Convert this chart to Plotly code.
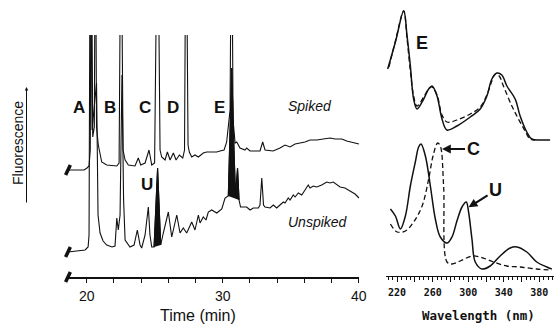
import plotly.graph_objects as go

W, H = 554, 324

# ---------------- Chromatograms (time in min, fluorescence in arbitrary units) ----------------
spiked_t = [18.62, 19.80, 20.02, 20.17, 20.26, 20.33, 20.44, 20.56, 20.63, 20.72, 20.85, 21.10, 21.47,
            22.21, 22.38, 22.52, 22.67, 22.82, 23.06, 23.55, 23.79, 23.97, 24.29, 24.58, 24.78, 24.99,
            25.21, 25.39, 25.51, 25.76, 25.93, 26.13, 26.37, 26.57, 26.81, 27.06, 27.19, 27.30, 27.45,
            27.54, 27.72, 27.96, 28.21, 28.57, 28.82, 29.07, 29.29, 29.56, 29.80, 30.10, 30.29, 30.41,
            30.54, 30.65, 30.76, 30.91, 31.03, 31.27, 31.64, 31.76, 32.01, 32.74, 32.94, 33.11, 33.70,
            34.21, 34.58, 34.95, 35.32, 35.68, 36.05, 36.42, 36.91, 37.40, 37.89, 38.26, 38.75, 39.12,
            39.73, 40.02]
spiked_s = [107, 107, 109, 111, 127, 400, 140, 150, 400, 150, 132, 115, 112,
            111, 114, 400, 127, 117, 112, 111, 119, 112, 114, 127, 112, 114,
            400, 127, 120, 117, 125, 117, 124, 117, 122, 119, 127, 400, 132,
            125, 120, 122, 120, 124, 125, 125, 125, 125, 126, 127, 135, 149,
            167, 400, 157, 134, 135, 129, 127, 129, 126, 126, 135, 127, 126,
            129, 132, 130, 133, 134, 135, 137, 137, 138, 139, 138, 138, 136,
            134, 133]

unspiked_t = [18.62, 19.51, 19.88, 20.10, 20.17, 20.26, 20.39, 20.46, 20.72, 20.83, 20.98, 21.20,
              21.47, 21.86, 22.08, 22.21, 22.32, 22.45, 22.59, 22.71, 22.82, 23.18, 23.48, 23.72,
              23.92, 24.04, 24.29, 24.53, 24.65, 24.78, 24.95, 25.21, 25.44, 25.63, 26.00, 26.25,
              26.62, 26.86, 27.10, 27.35, 27.72, 27.96, 28.21, 28.33, 28.57, 28.77, 28.94, 29.19,
              29.56, 29.93, 30.17, 30.41, 30.66, 30.83, 30.94, 31.09, 31.20, 31.31, 31.76, 32.01,
              32.25, 32.62, 32.74, 32.87, 33.00, 33.11, 33.48, 33.72, 33.97, 34.21, 34.46, 34.58,
              34.82, 34.95, 35.19, 35.32, 35.56, 35.81, 36.05, 36.29, 36.42, 36.66, 36.91, 37.28,
              37.65, 37.89, 38.13, 38.38, 38.63, 38.99, 39.24, 39.49, 39.73, 40.02]
unspiked_s = [25, 26, 27, 30, 42, 400, 147, 157, 194, 62, 44, 36,
              32, 30, 31, 59, 47, 62, 202, 77, 37, 30, 32, 47,
              32, 29, 42, 70, 42, 30, 30, 109, 32, 44, 65, 40,
              62, 44, 49, 44, 55, 47, 62, 54, 60, 57, 65, 67,
              64, 68, 79, 81, 209, 127, 82, 109, 77, 70, 70, 67,
              69, 69, 72, 99, 72, 70, 69, 72, 69, 72, 75, 74,
              79, 77, 82, 80, 84, 82, 87, 92, 89, 91, 90, 92,
              95, 94, 95, 92, 90, 89, 87, 85, 83, 79]

# time windows of the shaded (black) peaks in the unspiked trace
u_window = [24.95, 25.44]
e_window = [30.41, 31.20]

time_ticks = [20, 22, 24, 26, 28, 30, 32, 34, 36, 38, 40]
time_ticktext = ["20", "", "", "", "", "30", "", "", "", "", "40"]

peak_labels = ["A", "B", "C", "D", "E"]

# ---------------- UV spectra (wavelength nm, relative absorbance, offset) ----------------
E_sample_wl = [209.4, 218.1, 227.4, 231.2, 234.9, 238.6, 242.4, 249.9, 255.5, 259.3, 264.9, 270.5,
               276.1, 287.3, 302.3, 313.5, 321.0, 326.6, 332.2, 337.8, 343.5, 352.8, 358.4, 365.9,
               371.5, 380.9, 392.1]
E_sample_ab = [207, 234, 265, 240, 210, 177, 167, 177, 187, 190, 180, 157,
               146, 150, 159, 167, 180, 197, 203, 201, 190, 177, 160, 144,
               137, 136, 136]
E_std_wl = [210.8, 218.1, 227.4, 231.2, 234.9, 238.6, 242.4, 249.9, 255.5, 259.3, 264.9, 270.5,
            276.1, 287.3, 302.3, 313.5, 321.0, 326.6, 330.3, 334.8, 339.6, 349.1, 356.5, 364.0,
            369.6, 375.2]
E_std_ab = [209, 235, 265, 237, 205, 180, 170, 179, 187, 189, 181, 161,
            154, 156, 162, 169, 181, 195, 202, 200, 190, 170, 157, 145,
            137, 136]

U_wl = [212.5, 218.1, 223.7, 229.3, 234.9, 240.5, 244.2, 246.9, 251.8, 257.4, 263.0, 268.6,
        276.1, 281.7, 287.3, 293.0, 297.8, 300.4, 304.2, 307.9, 315.4, 324.7, 335.9, 347.2,
        354.7, 365.9, 377.1, 388.4, 394.0]
U_ab = [67, 60, 47, 60, 90, 114, 129, 132, 120, 90, 57, 39,
        33, 39, 55, 69, 74, 64, 37, 14, 7, 10, 20, 28,
        29, 24, 14, 9, 7]
C_wl = [212.5, 220.0, 229.3, 238.6, 248.1, 255.5, 260.4, 265.6, 268.6, 272.3, 276.1, 281.7,
        291.0, 304.2, 313.5, 328.4, 343.5, 358.4, 377.1, 394.0]
C_ab = [52, 44, 45, 54, 70, 97, 120, 133, 130, 90, 14, 12,
        15, 20, 19, 14, 10, 9, 7, 6]

wl_ticks = [220, 240, 260, 280, 300, 320, 340, 360, 380]
wl_ticktext = ["220", "", "260", "", "300", "", "340", "", "380"]


def px(x):
    return x / W


def py(y):
    return 1 - y / H


fig = go.Figure()
BLK = "#111111"

# shaded peaks (drawn from the unspiked data)
for lo, hi in (u_window, e_window):
    xs = [t for t in unspiked_t if lo <= t <= hi]
    ys = [s for t, s in zip(unspiked_t, unspiked_s) if lo <= t <= hi]
    fig.add_trace(go.Scatter(x=xs, y=ys, fill="toself", fillcolor=BLK, mode="lines",
                             line=dict(color=BLK, width=1), xaxis="x", yaxis="y",
                             hoverinfo="skip", showlegend=False))

fig.add_trace(go.Scatter(x=spiked_t, y=spiked_s, mode="lines", line=dict(color=BLK, width=1.1),
                         xaxis="x", yaxis="y", showlegend=False, name="Spiked"))
fig.add_trace(go.Scatter(x=unspiked_t, y=unspiked_s, mode="lines", line=dict(color=BLK, width=1.1),
                         xaxis="x", yaxis="y", showlegend=False, name="Unspiked"))
# pen start marks
fig.add_trace(go.Scatter(x=[spiked_t[0], unspiked_t[0], spiked_t[0]],
                         y=[spiked_s[0], unspiked_s[0], 0], mode="markers",
                         marker=dict(symbol="line-ns", size=8, angle=25,
                                     line=dict(color=BLK, width=3.5)),
                         cliponaxis=False, xaxis="x", yaxis="y", showlegend=False, hoverinfo="skip"))

# spectra
fig.add_trace(go.Scatter(x=E_sample_wl, y=E_sample_ab, mode="lines", line=dict(color=BLK, width=1.5),
                         xaxis="x2", yaxis="y2", showlegend=False, line_shape="spline"))
fig.add_trace(go.Scatter(x=E_std_wl, y=E_std_ab, mode="lines",
                         line=dict(color=BLK, width=1.3, dash="5px,3px"),
                         xaxis="x2", yaxis="y2", showlegend=False, line_shape="spline"))
fig.add_trace(go.Scatter(x=U_wl, y=U_ab, mode="lines", line=dict(color=BLK, width=1.5),
                         xaxis="x2", yaxis="y2", showlegend=False, line_shape="spline"))
fig.add_trace(go.Scatter(x=C_wl, y=C_ab, mode="lines",
                         line=dict(color=BLK, width=1.3, dash="5px,3px"),
                         xaxis="x2", yaxis="y2", showlegend=False, line_shape="spline"))

SANS = "Liberation Sans, Arial, sans-serif"
MONO = "DejaVu Sans Mono, monospace"

y_bot = py(277)
fig.update_layout(
    template="none",
    width=W, height=H, margin=dict(l=0, r=0, t=0, b=0, pad=0), autosize=False,
    paper_bgcolor="white", plot_bgcolor="rgba(0,0,0,0)",
    xaxis=dict(domain=[px(67.7), px(359.4)], range=[18.6, 40.05], showgrid=False, zeroline=False,
               automargin=False,
               showline=True, linecolor=BLK, linewidth=1.6, ticks="outside", ticklen=4,
               tickwidth=1.2, tickcolor=BLK, tickvals=time_ticks, ticktext=time_ticktext,
               tickfont=dict(family=SANS, size=14, color=BLK), ticklabelstandoff=1, anchor="y"),
    yaxis=dict(domain=[y_bot, py(35)], range=[0, 242], visible=False, anchor="x", automargin=False),
    xaxis2=dict(domain=[px(386), px(554)], range=[207.5, 396.5], showgrid=False, zeroline=False,
                automargin=False,
                showline=True, linecolor=BLK, linewidth=1.4, ticks="outside", ticklen=5,
                tickwidth=1, tickcolor=BLK, tickvals=wl_ticks, ticktext=wl_ticktext,
                minor=dict(dtick=5, tick0=220, ticks="outside", ticklen=3, tickcolor=BLK, tickwidth=1),
                tickfont=dict(family=MONO, size=10, color=BLK, weight="bold"),
                ticklabelstandoff=2, anchor="y2"),
    yaxis2=dict(domain=[py(276), 1], range=[0, 276], visible=False, anchor="x2", automargin=False),
)

ann = []
# peak labels in chromatogram
for lab, xc in zip(peak_labels, [79, 110, 144.5, 173, 219]):
    ann.append(dict(x=px(xc), y=py(107), text=f"<b>{lab}</b>", font=dict(family=SANS, size=17, color=BLK)))
ann.append(dict(x=px(147), y=py(184), text="<b>U</b>", font=dict(family=SANS, size=17, color=BLK)))
ann.append(dict(x=px(310), y=py(106), text="<i>Spiked</i>", font=dict(family=SANS, size=14, color=BLK)))
ann.append(dict(x=px(318), y=py(222), text="<i>Unspiked</i>", font=dict(family=SANS, size=14, color=BLK)))
ann.append(dict(x=px(198), y=py(315), text="Time (min)", font=dict(family=SANS, size=16, color=BLK)))
ann.append(dict(x=px(18), y=py(143), text="Fluorescence", textangle=-90,
                font=dict(family=SANS, size=14, color=BLK)))
ann.append(dict(x=px(26.5), y=py(87), text="", showarrow=True, ax=0, ay=117, arrowhead=2,
                arrowsize=0.7, arrowwidth=1, arrowcolor=BLK))
# spectra labels
ann.append(dict(x=px(422), y=py(43), text="<b>E</b>", font=dict(family=SANS, size=18, color=BLK)))
ann.append(dict(x=px(478), y=py(315), text="<b>Wavelength (nm)</b>", font=dict(family=MONO, size=12.5, color=BLK)))
ann.append(dict(x=270.5, y=127, xref="x2", yref="y2", text="<b>C</b>", showarrow=True, ax=31, ay=0,
                arrowhead=2, arrowsize=0.8, arrowwidth=2.2, arrowcolor=BLK, standoff=0,
                font=dict(family=SANS, size=18, color=BLK)))
ann.append(dict(x=300.4, y=68.7, xref="x2", yref="y2", text="<b>U</b>", showarrow=True, ax=27, ay=-17,
                arrowhead=2, arrowsize=0.8, arrowwidth=2.2, arrowcolor=BLK, standoff=0,
                font=dict(family=SANS, size=18, color=BLK)))
for a in ann:
    a.setdefault("xref", "paper")
    a.setdefault("yref", "paper")
    a.setdefault("showarrow", False)
    a.setdefault("xanchor", "center")
    a.setdefault("yanchor", "middle")
fig.update_layout(annotations=ann)

fig.write_html("out.html")
